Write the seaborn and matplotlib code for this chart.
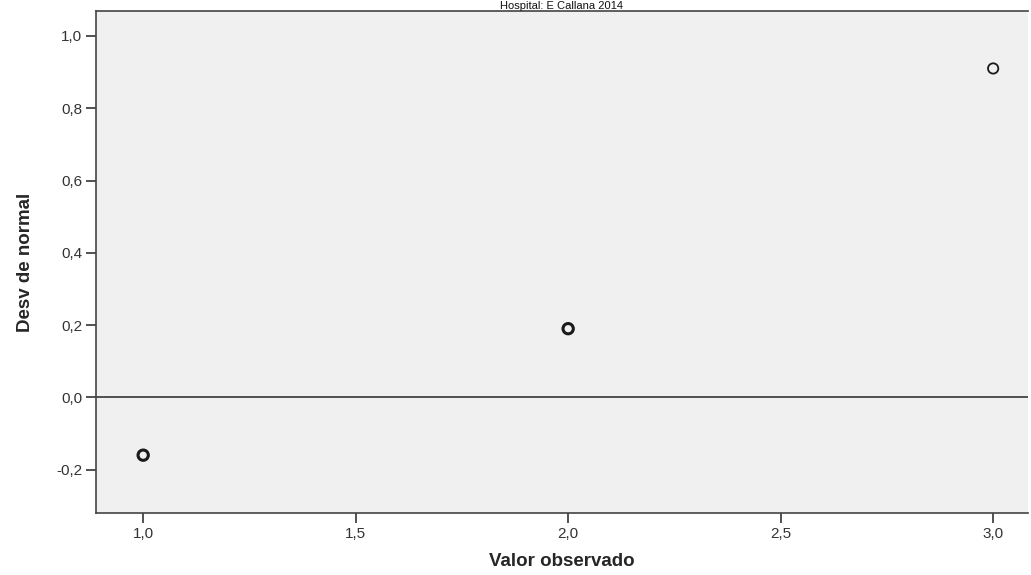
import matplotlib
matplotlib.use("Agg")
import matplotlib.pyplot as plt
import seaborn as sns
import pandas as pd

observed = [1.0, 2.0, 3.0]
deviation = [-0.16, 0.19, 0.91]
edge_weight = [2.2, 2.2, 1.3]
x_ticks = [1.0, 1.5, 2.0, 2.5, 3.0]
y_ticks = [-0.2, 0.0, 0.2, 0.4, 0.6, 0.8, 1.0]
title = "Hospital: E Callana 2014"

sns.set_theme(style="white")
plt.rcParams['font.family'] = ['Liberation Sans', 'DejaVu Sans']

fig = plt.figure(figsize=(10.31, 5.75), dpi=100)
ax = fig.add_axes([96/1031, 1 - 513/575, (1028-96)/1031, (513-11)/575])
ax.set_facecolor("#F0F0F0")

df = pd.DataFrame({"x": observed, "y": deviation, "w": edge_weight})
for _, r in df.iterrows():
    sns.scatterplot(x=[r.x], y=[r.y], ax=ax, marker="o", s=55,
                    facecolor="none", edgecolor="#1a1a1a", linewidth=r.w, legend=False, zorder=3)

ax.axhline(0, color="#444444", linewidth=1.3, zorder=2)
ax.set_xlim(0.889, 3.082)
ax.set_ylim(-0.32, 1.069)
ax.set_xticks(x_ticks)
ax.set_yticks(y_ticks)
ax.set_xticklabels([f"{v:.1f}".replace(".", ",") for v in x_ticks], fontsize=11, color="#333333")
ax.set_yticklabels([f"{v:.1f}".replace(".", ",") for v in y_ticks], fontsize=11, color="#333333")
ax.tick_params(axis="both", direction="out", length=7, width=1.2, color="#333333",
               bottom=True, left=True, pad=3)
for s in ax.spines.values():
    s.set_color("#444444")
    s.set_linewidth(1.2)
ax.spines["right"].set_visible(False)

ax.set_xlabel("Valor observado", fontsize=13.5, fontweight="bold", labelpad=9)
ax.set_ylabel("Desv de normal", fontsize=13.5, fontweight="bold", labelpad=16)

fig.text(0.5 * (96 + 1028) / 1031, 1 - 1/575, title, ha="center", va="top", fontsize=8, color="#111111")

fig.savefig("out.png", dpi=100)
